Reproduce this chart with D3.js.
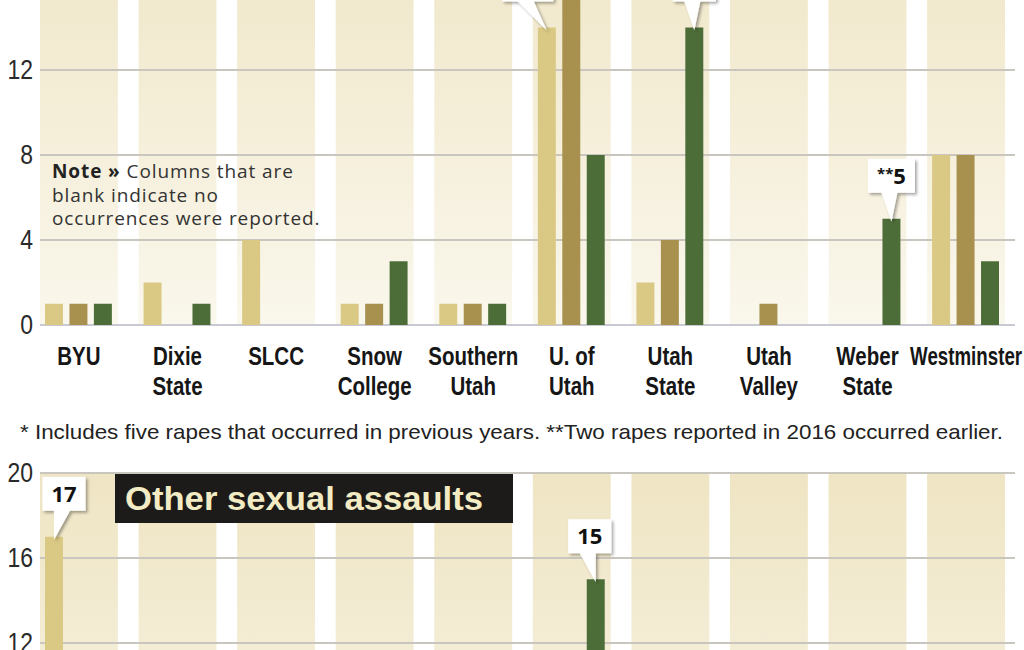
<!DOCTYPE html>
<html>
<head>
<meta charset="utf-8">
<script src="https://cdnjs.cloudflare.com/ajax/libs/d3/7.8.5/d3.min.js"></script>
<style>
  body { margin: 0; background: #fff; }
  svg { display: block; }
  .tick-label { font-family: "Liberation Sans", Arial, sans-serif; font-size: 28px; fill: #2a2a2a; }
  .cat-label { font-family: "Liberation Sans", Arial, sans-serif; font-weight: bold; font-size: 25px; fill: #161616; text-anchor: middle; }
  .note { font-family: "Open Sans", "Noto Sans", sans-serif; font-size: 19px; letter-spacing: 0.9px; fill: #333; }
  .footnote { font-family: "Liberation Sans", Arial, sans-serif; font-size: 21px; fill: #222; }
  .callout-text { font-family: "Open Sans", "Noto Sans", sans-serif; font-weight: bold; font-size: 22px; fill: #111; text-anchor: middle; }
  .panel-title { font-family: "Liberation Sans", Arial, sans-serif; font-weight: bold; font-size: 33px; fill: #f2ebc4; }
</style>
</head>
<body>
<svg id="chart" width="1024" height="650"></svg>
<script>
// campuses, left to right
var categories = ["BYU", "Dixie State", "SLCC", "Snow College", "Southern Utah",
                  "U. of Utah", "Utah State", "Utah Valley", "Weber State", "Westminster"];
var labelLines = [["BYU"], ["Dixie", "State"], ["SLCC"], ["Snow", "College"], ["Southern", "Utah"],
                  ["U. of", "Utah"], ["Utah", "State"], ["Utah", "Valley"], ["Weber", "State"], ["Westminster"]];
var seriesNames = ["2014", "2015", "2016"];

// rapes reported (top panel)
var rapes2014 = [1, 2, 4, 1, 1, 14, 2, 0, 0, 8];
var rapes2015 = [1, 0, 0, 1, 1, 17, 4, 1, 0, 8];   // U. of Utah 2015 runs off the top
var rapes2016 = [1, 1, 0, 3, 1, 8, 14, 0, 5, 3];

// other sexual assaults (bottom panel) - only the bars that reach above 12 are visible
var other2014 = [17, null, null, null, null, null, null, null, null, null];
var other2015 = [null, null, null, null, null, null, null, null, null, null];
var other2016 = [null, null, null, null, null, 15, null, null, null, null];

var topTicks = [0, 4, 8, 12, 16, 20];
var bottomTicks = [12, 16, 20];

var topCallouts = [
    {cat: "U. of Utah", series: "2014", label: "*14"},
    {cat: "Utah State", series: "2016", label: "14"},
    {cat: "Weber State", series: "2016", label: "**5"}
];
var bottomCallouts = [
    {cat: "BYU", series: "2014", label: "17"},
    {cat: "U. of Utah", series: "2016", label: "15"}
];

var noteLines = ["Columns that are", "blank indicate no", "occurrences were reported."];
var footnote = "* Includes five rapes that occurred in previous years. **Two  rapes reported in 2016 occurred earlier.";
var bottomTitle = "Other sexual assaults";

var left = 40, right = 1005, gridRight = 1015;
var unit = 21.25;   // px per report
var narrow = 0.82;  // squeeze for the condensed look

var svg = d3.select("#chart");
var defs = svg.append("defs");

var shadow = defs.append("filter").attr("id", "shadow")
    .attr("x", "-40%").attr("y", "-40%").attr("width", "180%").attr("height", "180%");
shadow.append("feDropShadow")
    .attr("dx", 2).attr("dy", 2).attr("stdDeviation", 1.6)
    .attr("flood-color", "#000").attr("flood-opacity", 0.35);

var x = d3.scaleBand().domain(categories).range([left, right]).paddingInner(0.21);
var xs = d3.scaleBand().domain(seriesNames).range([5, x.bandwidth() - 6]).paddingInner(0.265);
var color = d3.scaleOrdinal().domain(seriesNames).range(["#dac984", "#a8914f", "#4d6d38"]);

// small sideways nudges so the boxes don't sit on neighbouring bars
var calloutShift = {"U. of Utah|2014": -19, "BYU|2014": 10, "U. of Utah|2016": -6};

function drawPanel(zeroY, values, ticks, callouts, gradId) {
    var y = d3.scaleLinear().domain([0, 20]).range([zeroY, zeroY - 20 * unit]);
    var g = svg.append("g");

    var grad = defs.append("linearGradient").attr("id", gradId)
        .attr("gradientUnits", "userSpaceOnUse")
        .attr("x1", 0).attr("x2", 0).attr("y1", y(20)).attr("y2", y(0));
    grad.append("stop").attr("offset", "0%").attr("stop-color", "#efe5c4");
    grad.append("stop").attr("offset", "100%").attr("stop-color", "#faf7ec");

    g.selectAll("rect.band").data(categories).enter().append("rect")
        .attr("class", "band")
        .attr("x", function(d) { return x(d); })
        .attr("y", y(20))
        .attr("width", x.bandwidth())
        .attr("height", y(0) - y(20))
        .attr("fill", "url(#" + gradId + ")");

    g.selectAll("line.grid").data(ticks).enter().append("line")
        .attr("class", "grid")
        .attr("x1", left).attr("x2", gridRight)
        .attr("y1", function(d) { return y(d); })
        .attr("y2", function(d) { return y(d); })
        .attr("stroke", function(d) { return d === 0 ? "#c8c9d2" : "#c9c6c0"; })
        .attr("stroke-width", 2);

    var axis = g.append("g")
        .attr("transform", "translate(" + (left - 7) + ",0)")
        .call(d3.axisLeft(y).tickValues(ticks).tickSize(0).tickPadding(0))
        .attr("font-size", null).attr("font-family", null);
    axis.select(".domain").remove();
    axis.selectAll("text")
        .attr("class", "tick-label")
        .attr("transform", "scale(" + narrow + ",1)");

    seriesNames.forEach(function(s, i) {
        var rows = categories.map(function(c, j) { return {cat: c, v: values[i][j]}; })
            .filter(function(d) { return d.v; });
        g.selectAll("rect.s" + i).data(rows).enter().append("rect")
            .attr("class", "s" + i)
            .attr("x", function(d) { return x(d.cat) + xs(s); })
            .attr("y", function(d) { return y(d.v); })
            .attr("width", xs.bandwidth())
            .attr("height", function(d) { return y(0) - y(d.v); })
            .attr("fill", color(s));
    });

    callouts.forEach(function(c) {
        var si = seriesNames.indexOf(c.series);
        var v = values[si][categories.indexOf(c.cat)];
        var barCx = x(c.cat) + xs(c.series) + xs.bandwidth() / 2;
        var barTop = y(v);
        var cx = barCx + (calloutShift[c.cat + "|" + c.series] || 0);
        var bottom = barTop - 26, h = 34;

        var cg = g.append("g");
        var path = cg.append("path").attr("fill", "#fff").attr("filter", "url(#shadow)");
        var m = c.label.match(/^(\**)(.*)$/);
        var t = cg.append("text").attr("class", "callout-text").attr("x", cx).attr("y", bottom - 9);
        if (m[1]) t.append("tspan").attr("font-size", "15px").attr("dy", -5).text(m[1]);
        t.append("tspan").attr("dy", m[1] ? 5 : 0).text(m[2]);

        var w = t.node().getComputedTextLength() + 18;
        var l = cx - w / 2, r = cx + w / 2, top = bottom - h;
        path.attr("d", "M" + l + "," + top + "H" + r + "V" + bottom +
            "H" + (cx + 6) + "L" + barCx + "," + (barTop + 3) + "L" + (cx - 10) + "," + bottom +
            "H" + l + "Z");
    });
    return y;
}

drawPanel(325, [rapes2014, rapes2015, rapes2016], topTicks, topCallouts, "bandTop");
drawPanel(898, [other2014, other2015, other2016], bottomTicks, bottomCallouts, "bandBottom");

// campus labels, squeezed horizontally
var maxLabel = 112;
svg.selectAll("text.cat-label").data(categories).enter().append("text")
    .attr("class", "cat-label")
    .attr("transform", function(d) {
        return "translate(" + (x(d) + x.bandwidth() / 2) + ",0) scale(" + narrow + ",1)";
    })
    .each(function(d, i) {
        var t = d3.select(this);
        labelLines[i].forEach(function(line, k) {
            var ts = t.append("tspan")
                .attr("x", 0)
                .attr("y", 365 + k * 30)
                .text(line);
            if (ts.node().getComputedTextLength() * narrow > maxLabel) {
                ts.attr("textLength", maxLabel / narrow).attr("lengthAdjust", "spacingAndGlyphs");
            }
        });
    });

// note inside the top panel, one text per line
noteLines.forEach(function(line, k) {
    var t = svg.append("text").attr("class", "note").attr("x", 52).attr("y", 178 + k * 23.5);
    if (k === 0) {
        t.append("tspan").attr("font-weight", "bold").attr("fill", "#222").text("Note \u00bb ");
    }
    t.append("tspan").text(line);
});

svg.append("text").attr("class", "footnote")
    .attr("x", 20).attr("y", 439)
    .attr("textLength", 983).attr("lengthAdjust", "spacingAndGlyphs")
    .text(footnote);

// bottom panel title
svg.append("rect")
    .attr("x", 115).attr("y", 474).attr("width", 398).attr("height", 49)
    .attr("fill", "#1d1b19");
svg.append("text").attr("class", "panel-title")
    .attr("x", 125).attr("y", 510)
    .attr("textLength", 358).attr("lengthAdjust", "spacingAndGlyphs")
    .text(bottomTitle);
</script>
</body>
</html>
